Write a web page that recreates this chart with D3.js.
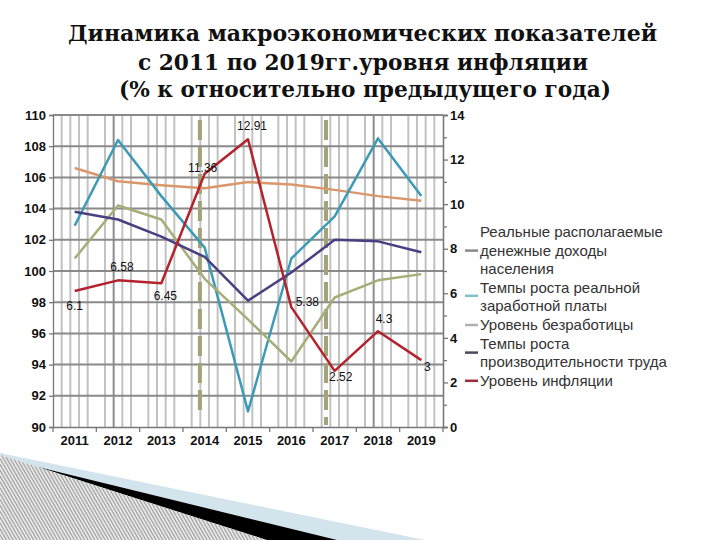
<!DOCTYPE html>
<html><head><meta charset="utf-8">
<script src="https://cdn.jsdelivr.net/npm/d3@7/dist/d3.min.js"></script>
<style>body{margin:0;background:#fff}svg{display:block}</style>
</head><body>
<svg id="c" width="720" height="540"></svg>
<script>
const titleLines = ["Динамика макроэкономических показателей","с 2011 по 2019гг.уровня инфляции","(% к относительно предыдущего года)"];
const years = ["2011","2012","2013","2014","2015","2016","2017","2018","2019"];
const incomeReal   = [106.6,105.75,105.5,105.3,105.7,105.55,105.2,104.8,104.5];
const wagesReal    = [102.9,108.4,104.8,101.5,91.0,100.8,103.5,108.5,104.8];
const unemployment = [100.8,104.2,103.3,99.5,96.9,94.2,98.3,99.4,99.8];
const productivity = [103.8,103.3,102.2,100.9,98.1,99.9,102.0,101.9,101.2];
const inflation    = [6.1,6.58,6.45,11.36,12.91,5.38,2.52,4.3,3];
const inflationLabels = ["6.1","6.58","6.45","11.36","12.91","5.38","2.52","4.3","3"];
const leftTicks = [90,92,94,96,98,100,102,104,106,108,110];
const rightTicks = [0,2,4,6,8,10,12,14];
const legendNames = ["Реальные располагаемые денежные доходы населения","Темпы роста реальной заработной платы","Уровень безработицы","Темпы роста производительности труда","Уровень инфляции"];
// layout / style (not data)
const legendLines = [["Реальные располагаемые","денежные доходы","населения"],["Темпы роста реальной","заработной платы"],["Уровень безработицы"],["Темпы роста","производительности труда"],["Уровень инфляции"]];
const legendMarkerRow = [1,0,0,0,0];
const legendMarkerDy = [-5,3,-5,4,-5];
const lineColors = ["#d9976b","#3b9bb6","#a6ad78","#4a3f80","#b3222d"];
const legendColors = ["#8a8a8a","#7fc3c8","#b0b0b0","#4a4a5a","#9b2a3a"];
const labelOffsets = [[0,19],[4,-9],[4,17],[-2,-2],[4,-9],[16,-1],[6,10],[6,-8],[6,11]];

const svg = d3.select("#c");
const x = d3.scaleBand().domain(years).range([53,443]);
const cx = d => x(d)+x.bandwidth()/2;
const yL = d3.scaleLinear().domain([90,110]).range([427,115]);
const yR = d3.scaleLinear().domain([0,14]).range([427,115]);

// decorative bottom-left
svg.append("polygon").attr("points","0,453 425,540 0,540").attr("fill","#d3e4ed");
svg.append("polygon").attr("points","38,467 337,540 265,540").attr("fill","#000");
svg.append("polygon").attr("points","0,455 267,540 0,540").attr("fill","#e6e6e6");
// hatch lines, each cut to the triangle (top edge y = 455 + x*85/267)
const hatchStarts = d3.range(-70,267,3.4);
const slopeTop = 85/267, hdx = 0.58; // hatch: x advances hdx per unit y
const hatch = hatchStarts.map(s=>{
  // line: x = s + hdx*(y-455); intersect with top edge y = 455 + x*slopeTop
  let y0 = 455 + (s*slopeTop)/(1 - hdx*slopeTop);
  let x0 = s + hdx*(y0-455);
  if (x0 < 0) { x0 = 0; y0 = 455 + (-s)/hdx; }
  const y1 = 540, x1 = s + hdx*(y1-455);
  return [x0,y0,x1,y1];
}).filter(d=>d[1]<540);
svg.append("g").selectAll("line").data(hatch).join("line")
  .attr("x1",d=>d[0]).attr("y1",d=>d[1]).attr("x2",d=>d[2]).attr("y2",d=>d[3])
  .attr("stroke","#a0a0a0").attr("stroke-width",1.1);

// title
const tLen=[589,450,492], tY=[41,70,97];
svg.selectAll("text.title").data(titleLines).join("text").attr("class","title")
  .attr("x",(d,i)=>[68,138,119][i]).attr("y",(d,i)=>tY[i])
  .attr("textLength",(d,i)=>tLen[i]).attr("lengthAdjust","spacingAndGlyphs")
  .attr("font-family","DejaVu Serif, serif").attr("font-weight","bold").attr("font-size",22)
  .attr("fill","#111").text(d=>d);

// vertical gridlines (5 per band)
const step = x.step();
const vg = svg.append("g");
const subs = d3.range(1,45).filter(i=>i%5!==0);
vg.selectAll("line").data(subs).join("line")
  .attr("x1",i=>53+i*step/5).attr("x2",i=>53+i*step/5)
  .attr("y1",115).attr("y2",427)
  .attr("stroke",i=>(i===7||i===37)?"#8d8d8d":"#c2c2c2").attr("stroke-width",2);
// horizontal gridlines
svg.append("g").selectAll("line").data(leftTicks.filter(t=>t>90)).join("line")
  .attr("x1",53).attr("x2",443).attr("y1",d=>yL(d)).attr("y2",d=>yL(d))
  .attr("stroke","#8a8a8a").attr("stroke-width",2);
// dashed vertical lines
svg.append("g").selectAll("line").data([["2014",0.39,120,415],["2017",0.3,120,425]]).join("line")
  .attr("x1",d=>x(d[0])+d[1]*step).attr("x2",d=>x(d[0])+d[1]*step)
  .attr("y1",d=>d[2]).attr("y2",d=>d[3])
  .attr("stroke","#a3a37a").attr("stroke-width",4).attr("stroke-dasharray","20,7");

// axes
const axFont = g=>g.selectAll("text").attr("font-family","Liberation Sans, Arial, sans-serif").attr("font-size",13).attr("font-weight","bold").attr("fill","#111");
const gl = svg.append("g").attr("transform","translate(53,0)")
  .call(d3.axisLeft(yL).tickValues(leftTicks).tickSize(4).tickPadding(3).tickFormat(d3.format("d")));
gl.call(axFont); gl.selectAll("path,line").attr("stroke","#777").attr("stroke-width",1.3);
const grm = svg.append("g").attr("transform","translate(443,0)")
  .call(d3.axisRight(yR).tickValues(d3.range(1,14,2)).tickSize(4).tickFormat(""));
grm.selectAll("path,line").attr("stroke","#777").attr("stroke-width",1.3);
const gr = svg.append("g").attr("transform","translate(443,0)")
  .call(d3.axisRight(yR).tickValues(rightTicks).tickSize(5).tickPadding(2).tickFormat(d3.format("d")));
gr.call(axFont); gr.selectAll("path,line").attr("stroke","#777").attr("stroke-width",1.3);
const gb = svg.append("g").attr("transform","translate(0,427)")
  .call(d3.axisBottom(x).tickSize(0).tickPadding(9));
gb.call(axFont); gb.selectAll("path").attr("stroke","#777").attr("stroke-width",1.3);
gb.selectAll("line.bt").data(years.concat(["end"])).join("line").attr("class","bt")
  .attr("x1",(d,i)=>53+i*step).attr("x2",(d,i)=>53+i*step).attr("y1",0).attr("y2",5)
  .attr("stroke","#777").attr("stroke-width",1.3);

// series lines
const leftSeries = [incomeReal,wagesReal,unemployment,productivity];
const lineL = d3.line().x((d,i)=>cx(years[i])).y(d=>yL(d));
const lineR = d3.line().x((d,i)=>cx(years[i])).y(d=>yR(d));
svg.append("g").selectAll("path").data(leftSeries).join("path")
  .attr("d",d=>lineL(d)).attr("fill","none")
  .attr("stroke",(d,i)=>lineColors[i]).attr("stroke-width",2.5).attr("stroke-linejoin","round");
svg.append("path").attr("d",lineR(inflation)).attr("fill","none")
  .attr("stroke",lineColors[4]).attr("stroke-width",2.5).attr("stroke-linejoin","round");

// inflation labels
svg.append("g").selectAll("text").data(inflation).join("text")
  .attr("x",(d,i)=>cx(years[i])+labelOffsets[i][0]).attr("y",(d,i)=>yR(d)+labelOffsets[i][1])
  .attr("text-anchor","middle").attr("font-family","Liberation Sans, Arial, sans-serif")
  .attr("font-size",12).attr("fill","#111").text((d,i)=>inflationLabels[i]);

// legend
const lg = svg.append("g");
let row=0;
legendLines.forEach((lines,k)=>{
  const mrow=row+legendMarkerRow[k];
  lg.append("line").attr("x1",465).attr("x2",478)
    .attr("y1",237+mrow*18.6+legendMarkerDy[k]).attr("y2",237+mrow*18.6+legendMarkerDy[k])
    .attr("stroke",legendColors[k]).attr("stroke-width",2.5);
  lines.forEach(t=>{
    lg.append("text").attr("x",480).attr("y",237+row*18.6)
      .attr("font-family","Liberation Sans, Arial, sans-serif").attr("font-size",15)
      .attr("fill","#333").text(t);
    row++;
  });
});
</script>
</body></html>
